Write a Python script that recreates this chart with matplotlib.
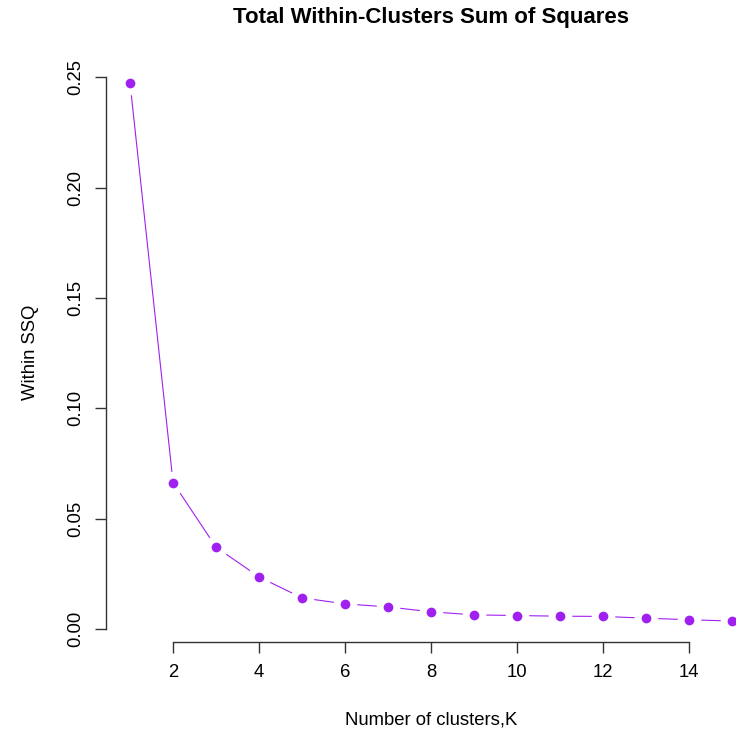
import matplotlib
matplotlib.use('Agg')
import matplotlib.pyplot as plt

plt.rcParams['font.family'] = ['Liberation Sans', 'DejaVu Sans']

k_values = list(range(1, 16))
within_ssq = [0.2473, 0.0663, 0.0370, 0.0235, 0.0140, 0.0113, 0.0099, 0.0077,
              0.0063, 0.0060, 0.0057, 0.0056, 0.0048, 0.0041, 0.0035]
x_ticks = [2, 4, 6, 8, 10, 12, 14]
y_ticks = [0.00, 0.05, 0.10, 0.15, 0.20, 0.25]
y_tick_labels = ['0.00', '0.05', '0.10', '0.15', '0.20', '0.25']

purple = '#A020F0'

fig = plt.figure(figsize=(7.36, 7.32), dpi=100)
ax = fig.add_axes([106 / 736, (732 - 642) / 732, 650 / 736, 580 / 732])

# R style type="b": line with gaps around each point
ax.plot(k_values, within_ssq, color=purple, lw=0.8, clip_on=False, zorder=2)
ax.plot(k_values, within_ssq, 'o', color='white', ms=17, mew=0, clip_on=False, zorder=3)
ax.plot(k_values, within_ssq, 'o', color=purple, ms=7, mew=0, clip_on=False, zorder=4)

ax.set_xlim(0.44, 15.56)
ax.set_ylim(-0.006, 0.257)

for side in ['top', 'right']:
    ax.spines[side].set_visible(False)
ax.spines['left'].set_bounds(0, 0.25)
ax.spines['bottom'].set_bounds(2, 14)
for side in ['left', 'bottom']:
    ax.spines[side].set_color('#333333')
    ax.spines[side].set_linewidth(1.0)

ax.set_xticks(x_ticks)
ax.set_xticklabels([str(t) for t in x_ticks])
ax.set_yticks(y_ticks)
ax.set_yticklabels(y_tick_labels, rotation=90, va='center')
ax.tick_params(axis='both', length=8, width=1.0, color='#333333', labelsize=13.3, pad=8)

ax.set_xlabel('Number of clusters,K', fontsize=13.3, labelpad=22)
ax.set_ylabel('Within SSQ', fontsize=13.3, labelpad=20)
ax.set_title('Total Within-Clusters Sum of Squares', fontsize=16, fontweight='bold', pad=28)

fig.savefig('out.png', dpi=100)
